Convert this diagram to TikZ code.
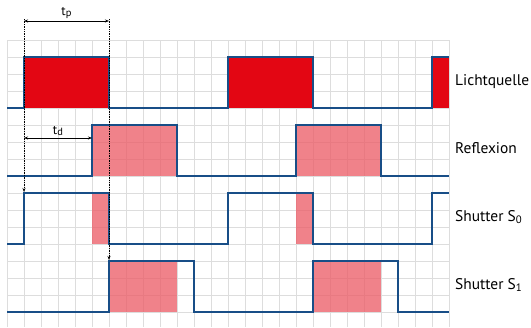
\documentclass[tikz,border=0pt]{standalone}
\usepackage{fontspec}
\setmainfont{PT Sans}
\usetikzlibrary{arrows.meta}

\definecolor{sigblue}{RGB}{24,78,135}
\definecolor{lichtrot}{RGB}{227,6,19}
\definecolor{reflrot}{RGB}{236,95,105}
\definecolor{gridgray}{RGB}{221,221,221}

\newcommand{\tsub}[2]{#1\raisebox{-1.5bp}{\fontsize{10.5}{12}\selectfont #2}}

\tikzset{
  signal/.style={draw=sigblue, line width=1.6bp},
  pulse/.style={fill=lichtrot},
  refl/.style={fill=reflrot, fill opacity=0.78},
  marker/.style={densely dotted, line width=0.7bp, -{Stealth[length=4bp,width=3bp]}},
  span/.style={line width=1bp, {Stealth[length=4bp,width=3bp]}-{Stealth[length=4bp,width=3bp]}},
  lbl/.style={anchor=base west, inner sep=0pt, font=\fontsize{15.5}{18}\selectfont},
  tlbl/.style={midway, above=1.5bp, inner sep=0pt, font=\fontsize{13}{15}\selectfont},
}

\begin{document}
\begin{tikzpicture}[x=1bp, y=-1bp]
  \useasboundingbox (0,0) rectangle (531,327);
  % raster
  \foreach \x in {0,...,26}
    \draw[gridgray, line width=0.9bp] (7+17*\x,40) -- (7+17*\x,327);
  \foreach \y in {0,...,16}
    \draw[gridgray, line width=0.9bp] (7,40+17*\y) -- (449,40+17*\y);
  % fills
  \fill[pulse] (24,57) rectangle (109,108);
  \fill[pulse] (228,57) rectangle (313,108);
  \fill[pulse] (432,57) rectangle (449,108);
  \fill[refl] (92,125) rectangle (177,176);
  \fill[refl] (296,125) rectangle (381,176);
  \fill[refl] (92,193) rectangle (109,244);
  \fill[refl] (296,193) rectangle (313,244);
  \fill[refl] (109,261) rectangle (177,312);
  \fill[refl] (313,261) rectangle (381,312);
  % signals
  \draw[signal] (7,108) -| (24,57) -| (109,108) -| (228,57) -| (313,108) -| (432,57) -- (449,57);
  \draw[signal] (7,176) -| (92,125) -| (177,176) -| (296,125) -| (381,176) -- (449,176);
  \draw[signal] (7,244) -| (24,193) -| (109,244) -| (228,193) -| (313,244) -| (432,193) -- (449,193);
  \draw[signal] (7,312) -| (109,261) -| (194,312) -| (313,261) -| (398,312) -- (449,312);
  % labels
  \node[lbl] (licht) at (455,85) {Lichtquelle};
  \node[lbl] (refl) at (455,153) {Reflexion};
  \node[lbl] (snull) at (455,221) {Shutter S\textsubscript{0}};
  \node[lbl] (seins) at (455,289) {Shutter S\textsubscript{1}};
  % timing marks
  \coordinate (tpl) at (24,21);
  \coordinate (tpr) at (109,21);
  \coordinate (tdl) at (24,138);
  \coordinate (tdr) at (92,138);
  \coordinate (snullup) at (24,192);
  \coordinate (seinsup) at (109,260);
  \draw[marker] (24,19) -- (snullup);
  \draw[marker] (109,19) -- (seinsup);
  \draw[span] (tpl) -- (tpr) node[tlbl] (tp) {\tsub{t}{p}};
  \draw[span] (tdl) -- (tdr) node[tlbl] (td) {\tsub{t}{d}};
\end{tikzpicture}
\end{document}
